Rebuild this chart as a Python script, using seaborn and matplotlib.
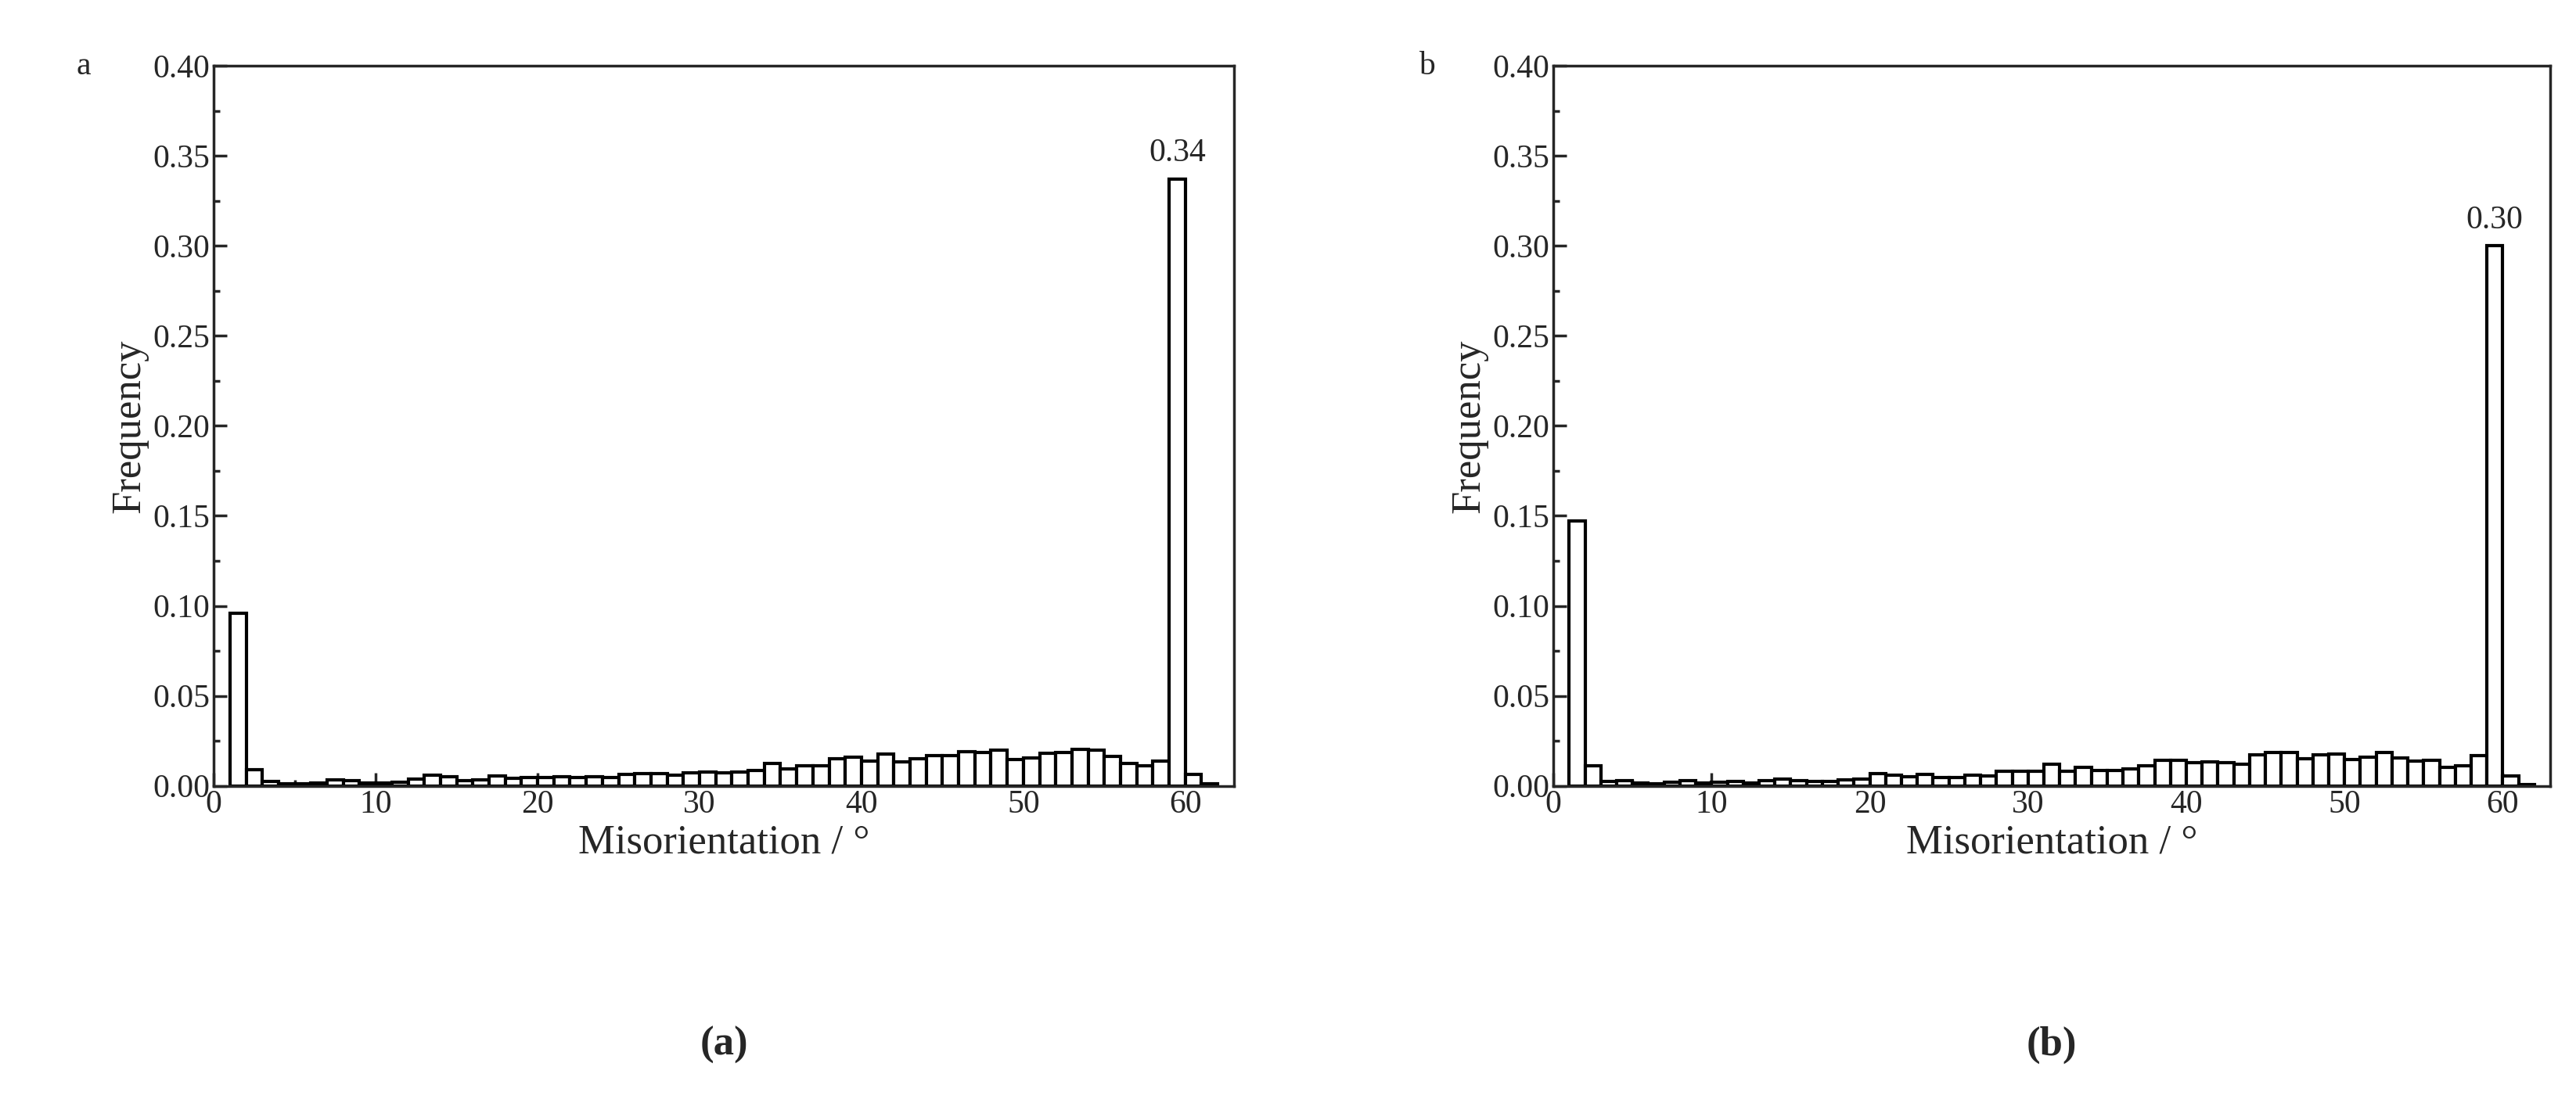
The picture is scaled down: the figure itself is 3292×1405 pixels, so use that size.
import numpy as np
import pandas as pd
import matplotlib
matplotlib.use("Agg")
import matplotlib.pyplot as plt
import seaborn as sns
from matplotlib.ticker import MultipleLocator

# bin left edges, degrees (1-degree bins)
angles = list(range(1, 62))

freq_a = [0.096, 0.009, 0.0024, 0.001, 0.001, 0.0014, 0.0035, 0.003, 0.0016, 0.0016,
          0.002, 0.0036, 0.0057, 0.005, 0.003, 0.0034, 0.0053, 0.0043, 0.0046, 0.0044,
          0.005, 0.0046, 0.005, 0.0047, 0.0064, 0.0067, 0.0067, 0.006, 0.0073, 0.0077,
          0.0071, 0.0076, 0.0086, 0.0123, 0.0093, 0.011, 0.011, 0.015, 0.0157, 0.0136,
          0.0177, 0.0133, 0.0149, 0.0166, 0.0166, 0.019, 0.0183, 0.020, 0.0146, 0.0154,
          0.0179, 0.0186, 0.0203, 0.0196, 0.0164, 0.0124, 0.011, 0.0139, 0.337, 0.0064,
          0.001]

freq_b = [0.147, 0.011, 0.0026, 0.0029, 0.0017, 0.0011, 0.002, 0.0029, 0.0017, 0.0021,
          0.0024, 0.0017, 0.0029, 0.0039, 0.003, 0.0026, 0.0026, 0.0034, 0.0039, 0.0067,
          0.0057, 0.0049, 0.0063, 0.0047, 0.0047, 0.0059, 0.0056, 0.008, 0.0079, 0.0081,
          0.0119, 0.0081, 0.0101, 0.0086, 0.0086, 0.0093, 0.0113, 0.0143, 0.014, 0.0129,
          0.0131, 0.013, 0.012, 0.017, 0.0186, 0.0183, 0.015, 0.0174, 0.0177, 0.0146,
          0.0157, 0.0186, 0.0153, 0.0137, 0.0143, 0.0103, 0.011, 0.0167, 0.300, 0.0053,
          0.0006]

peak_labels = ["0.34", "0.30"]
panel_letters = ["a", "b"]
captions = ["(a)", "(b)"]

sns.set_theme(style="ticks")
plt.rcParams["font.family"] = ["Liberation Serif", "DejaVu Serif"]

fig = plt.figure(figsize=(32.92, 14.05), dpi=100)
axes_pos = [[0.083, 0.285, 0.396, 0.655], [0.603, 0.285, 0.387, 0.655]]

for k, freq in enumerate([freq_a, freq_b]):
    ax = fig.add_axes(axes_pos[k])
    df = pd.DataFrame({"angle": np.array(angles) + 0.5, "freq": freq})
    sns.histplot(data=df, x="angle", weights="freq", binwidth=1, binrange=(1, 62),
                 ax=ax, color="white", edgecolor="black", linewidth=3, alpha=1)
    ax.set_xlim(0, 63)
    ax.set_ylim(0, 0.40)
    ax.xaxis.set_major_locator(MultipleLocator(10))
    ax.xaxis.set_minor_locator(MultipleLocator(5))
    ax.yaxis.set_major_locator(MultipleLocator(0.05))
    ax.yaxis.set_minor_locator(MultipleLocator(0.025))
    ax.yaxis.set_major_formatter(matplotlib.ticker.FormatStrFormatter("%.2f"))
    ax.tick_params(which="both", direction="in", labelsize=30, width=2.5)
    ax.tick_params(which="major", length=12)
    ax.tick_params(which="minor", length=6)
    ax.tick_params(axis="x", which="both", top=False)
    for s in ax.spines.values():
        s.set_linewidth(2.5)
    ax.set_xlabel("Misorientation / °", fontsize=38)
    ax.set_ylabel("Frequency", fontsize=38)
    peak = max(freq)
    ax.text(59.5, peak + 0.006, peak_labels[k], ha="center", va="bottom", fontsize=30)
    ax.text(-0.135, 1.0, panel_letters[k], transform=ax.transAxes, fontsize=30,
            va="center", ha="left")
    ax.text(0.5, -0.36, captions[k], transform=ax.transAxes, fontsize=38,
            ha="center", va="center", fontweight="bold")

fig.savefig("out.png", dpi=100)
